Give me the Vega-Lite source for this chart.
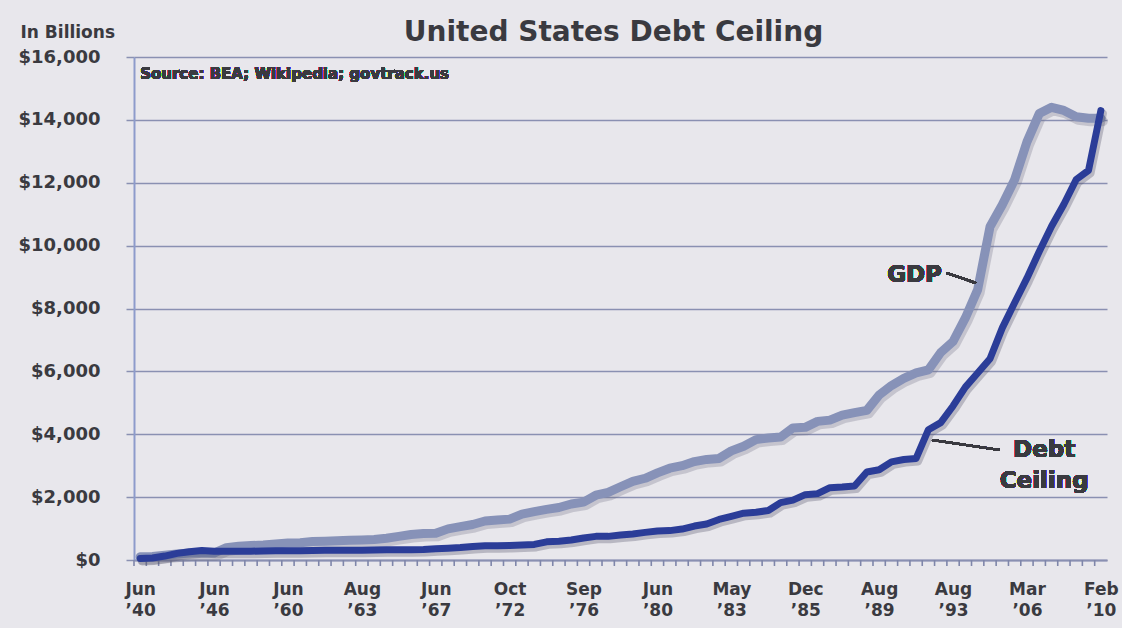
{
  "$schema": "https://vega.github.io/schema/vega-lite/v6.json",
  "width": 973,
  "height": 503,
  "autosize": "none",
  "padding": {"left": 134, "top": 57, "right": 15, "bottom": 68},
  "background": "#e8e7ec",
  "title": {
    "text": "United States Debt Ceiling",
    "font": "DejaVu Sans",
    "fontSize": 28,
    "fontWeight": "bold",
    "color": "#3a3a40",
    "anchor": "middle",
    "baseline": "alphabetic",
    "offset": -46,
    "dx": -7
  },
  "config": {
    "view": {"stroke": null},
    "font": "DejaVu Sans",
    "text": {"font": "DejaVu Sans"}
  },
  "datasets": {
    "events": [
      {"i": 0, "date": "Jun 1940", "debt": 49, "gdp": 100},
      {"i": 1, "date": "Feb 1941", "debt": 65, "gdp": 115},
      {"i": 2, "date": "Mar 1942", "debt": 125, "gdp": 150},
      {"i": 3, "date": "Apr 1943", "debt": 210, "gdp": 190},
      {"i": 4, "date": "Jun 1944", "debt": 260, "gdp": 220},
      {"i": 5, "date": "Apr 1945", "debt": 300, "gdp": 225},
      {"i": 6, "date": "Jun 1946", "debt": 275, "gdp": 222},
      {"i": 7, "date": "Aug 1954", "debt": 281, "gdp": 390},
      {"i": 8, "date": "Jul 1956", "debt": 278, "gdp": 440},
      {"i": 9, "date": "Feb 1958", "debt": 280, "gdp": 460},
      {"i": 10, "date": "Sep 1958", "debt": 288, "gdp": 480},
      {"i": 11, "date": "Jun 1959", "debt": 295, "gdp": 510},
      {"i": 12, "date": "Jun 1960", "debt": 293, "gdp": 540},
      {"i": 13, "date": "Jun 1961", "debt": 298, "gdp": 550},
      {"i": 14, "date": "Mar 1962", "debt": 300, "gdp": 590},
      {"i": 15, "date": "Jul 1962", "debt": 308, "gdp": 600},
      {"i": 16, "date": "May 1963", "debt": 307, "gdp": 615},
      {"i": 17, "date": "Jun 1963", "debt": 309, "gdp": 625},
      {"i": 18, "date": "Aug 1963", "debt": 309, "gdp": 635},
      {"i": 19, "date": "Nov 1963", "debt": 315, "gdp": 650},
      {"i": 20, "date": "Jun 1964", "debt": 324, "gdp": 690},
      {"i": 21, "date": "Jun 1965", "debt": 328, "gdp": 750},
      {"i": 22, "date": "Jun 1966", "debt": 330, "gdp": 810},
      {"i": 23, "date": "Mar 1967", "debt": 336, "gdp": 840},
      {"i": 24, "date": "Jun 1967", "debt": 358, "gdp": 850},
      {"i": 25, "date": "Apr 1969", "debt": 377, "gdp": 990},
      {"i": 26, "date": "Jun 1970", "debt": 395, "gdp": 1060},
      {"i": 27, "date": "Mar 1971", "debt": 430, "gdp": 1130},
      {"i": 28, "date": "Mar 1972", "debt": 450, "gdp": 1240},
      {"i": 29, "date": "Jul 1972", "debt": 450, "gdp": 1270},
      {"i": 30, "date": "Oct 1972", "debt": 465, "gdp": 1300},
      {"i": 31, "date": "Dec 1973", "debt": 476, "gdp": 1460},
      {"i": 32, "date": "Jun 1974", "debt": 495, "gdp": 1540},
      {"i": 33, "date": "Feb 1975", "debt": 577, "gdp": 1610},
      {"i": 34, "date": "Jun 1975", "debt": 595, "gdp": 1670},
      {"i": 35, "date": "Mar 1976", "debt": 636, "gdp": 1780},
      {"i": 36, "date": "Sep 1976", "debt": 700, "gdp": 1840},
      {"i": 37, "date": "Oct 1977", "debt": 752, "gdp": 2060},
      {"i": 38, "date": "Mar 1978", "debt": 752, "gdp": 2150},
      {"i": 39, "date": "Aug 1978", "debt": 798, "gdp": 2330},
      {"i": 40, "date": "Apr 1979", "debt": 830, "gdp": 2500},
      {"i": 41, "date": "Sep 1979", "debt": 879, "gdp": 2600},
      {"i": 42, "date": "Jun 1980", "debt": 925, "gdp": 2770},
      {"i": 43, "date": "Dec 1980", "debt": 935, "gdp": 2920},
      {"i": 44, "date": "Feb 1981", "debt": 985, "gdp": 3000},
      {"i": 45, "date": "Sep 1981", "debt": 1080, "gdp": 3130},
      {"i": 46, "date": "Jun 1982", "debt": 1143, "gdp": 3200},
      {"i": 47, "date": "Sep 1982", "debt": 1290, "gdp": 3230},
      {"i": 48, "date": "May 1983", "debt": 1389, "gdp": 3470},
      {"i": 49, "date": "Nov 1983", "debt": 1490, "gdp": 3620},
      {"i": 50, "date": "May 1984", "debt": 1520, "gdp": 3830},
      {"i": 51, "date": "Jul 1984", "debt": 1573, "gdp": 3880},
      {"i": 52, "date": "Oct 1984", "debt": 1824, "gdp": 3910},
      {"i": 53, "date": "Nov 1985", "debt": 1904, "gdp": 4200},
      {"i": 54, "date": "Dec 1985", "debt": 2079, "gdp": 4220},
      {"i": 55, "date": "Aug 1986", "debt": 2111, "gdp": 4410},
      {"i": 56, "date": "Oct 1986", "debt": 2300, "gdp": 4450},
      {"i": 57, "date": "May 1987", "debt": 2320, "gdp": 4610},
      {"i": 58, "date": "Aug 1987", "debt": 2352, "gdp": 4690},
      {"i": 59, "date": "Sep 1987", "debt": 2800, "gdp": 4760},
      {"i": 60, "date": "Aug 1989", "debt": 2870, "gdp": 5250},
      {"i": 61, "date": "Nov 1989", "debt": 3123, "gdp": 5550},
      {"i": 62, "date": "Aug 1990", "debt": 3195, "gdp": 5780},
      {"i": 63, "date": "Oct 1990", "debt": 3230, "gdp": 5950},
      {"i": 64, "date": "Nov 1990", "debt": 4145, "gdp": 6050},
      {"i": 65, "date": "Apr 1993", "debt": 4370, "gdp": 6600},
      {"i": 66, "date": "Aug 1993", "debt": 4900, "gdp": 6950},
      {"i": 67, "date": "Mar 1996", "debt": 5500, "gdp": 7700},
      {"i": 68, "date": "Aug 1997", "debt": 5950, "gdp": 8600},
      {"i": 69, "date": "Jun 2002", "debt": 6400, "gdp": 10600},
      {"i": 70, "date": "May 2003", "debt": 7384, "gdp": 11300},
      {"i": 71, "date": "Nov 2004", "debt": 8184, "gdp": 12100},
      {"i": 72, "date": "Mar 2006", "debt": 8965, "gdp": 13300},
      {"i": 73, "date": "Sep 2007", "debt": 9815, "gdp": 14200},
      {"i": 74, "date": "Jul 2008", "debt": 10615, "gdp": 14400},
      {"i": 75, "date": "Oct 2008", "debt": 11315, "gdp": 14300},
      {"i": 76, "date": "Feb 2009", "debt": 12104, "gdp": 14100},
      {"i": 77, "date": "Dec 2009", "debt": 12394, "gdp": 14050},
      {"i": 78, "date": "Feb 2010", "debt": 14294, "gdp": 14050}
    ]
  },
  "data": {"name": "events"},
  "layer": [
    {
      "mark": {"type": "rule", "color": "#7f86aa", "strokeWidth": 1.6, "xOffset": -6.16, "clip": false},
      "encoding": {
        "x": {
          "field": "i",
          "type": "quantitative",
          "scale": {"domain": [-0.5, 78.5], "nice": false, "zero": false},
          "axis": {
            "title": null,
            "values": [0, 6, 12, 18, 24, 30, 36, 42, 48, 54, 60, 66, 72, 78],
            "labelExpr": "[['Jun','Jun','Jun','Aug','Jun','Oct','Sep','Jun','May','Dec','Aug','Aug','Mar','Feb'][datum.value / 6], ['’40','’46','’60','’63','’67','’72','’76','’80','’83','’85','’89','’93','’06','’10'][datum.value / 6]]",
            "ticks": false,
            "domain": true,
            "domainColor": "#8a90b2",
            "domainWidth": 2,
            "labelFont": "DejaVu Sans",
            "labelFontSize": 17,
            "labelFontWeight": "bold",
            "labelColor": "#3a3a40",
            "labelPadding": 21,
            "labelLineHeight": 21,
            "labelBaseline": "top",
            "labelOverlap": false,
            "labelFlush": false,
            "grid": false
          }
        },
        "y": {
          "datum": 0,
          "type": "quantitative",
          "scale": {"domain": [0, 16000], "nice": false},
          "axis": {
            "title": "In Billions",
            "titleAngle": 0,
            "titleAlign": "left",
            "titleBaseline": "alphabetic",
            "titleX": -114,
            "titleY": -20,
            "titleFont": "DejaVu Sans",
            "titleFontSize": 17,
            "titleFontWeight": "bold",
            "titleColor": "#3a3a40",
            "values": [0, 2000, 4000, 6000, 8000, 10000, 12000, 14000, 16000],
            "format": "$,d",
            "labelFont": "DejaVu Sans",
            "labelFontSize": 18,
            "labelFontWeight": "bold",
            "labelColor": "#3a3a40",
            "labelPadding": 26,
            "tickSize": 8,
            "tickWidth": 1.5,
            "tickColor": "#8a90b2",
            "domainColor": "#8d9bcb",
            "domainWidth": 2,
            "grid": true,
            "gridColor": "#8a90b2",
            "gridWidth": 1.6
          }
        },
        "y2": {"datum": -190}
      }
    },
    {
      "mark": {"type": "line", "color": "#6c6c80", "opacity": 0.28, "strokeWidth": 10, "strokeJoin": "round", "strokeCap": "round", "xOffset": 2, "yOffset": 3},
      "encoding": {
        "x": {"field": "i", "type": "quantitative"},
        "y": {"field": "gdp", "type": "quantitative"}
      }
    },
    {
      "mark": {"type": "line", "color": "#8792b8", "strokeWidth": 9, "strokeJoin": "round", "strokeCap": "round"},
      "encoding": {
        "x": {"field": "i", "type": "quantitative"},
        "y": {"field": "gdp", "type": "quantitative"}
      }
    },
    {
      "mark": {"type": "line", "color": "#4a4a60", "opacity": 0.3, "strokeWidth": 8, "strokeJoin": "round", "strokeCap": "round", "xOffset": 2, "yOffset": 3},
      "encoding": {
        "x": {"field": "i", "type": "quantitative"},
        "y": {"field": "debt", "type": "quantitative"}
      }
    },
    {
      "mark": {"type": "line", "color": "#2b3d98", "strokeWidth": 7, "strokeJoin": "round", "strokeCap": "round"},
      "encoding": {
        "x": {"field": "i", "type": "quantitative"},
        "y": {"field": "debt", "type": "quantitative"}
      }
    },
    {
      "mark": {"type": "text", "text": "Source: BEA; Wikipedia; govtrack.us", "font": "DejaVu Sans", "fontSize": 15, "fontWeight": "bold", "color": "#3a3a40", "align": "left", "baseline": "alphabetic"},
      "encoding": {
        "x": {"datum": 0},
        "y": {"datum": 15300}
      }
    },
    {
      "mark": {"type": "text", "text": "GDP", "font": "DejaVu Sans", "fontSize": 23, "fontWeight": "bold", "color": "#3a3a40", "align": "right", "baseline": "middle"},
      "encoding": {
        "x": {"datum": 65.1},
        "y": {"datum": 9050}
      }
    },
    {
      "mark": {"type": "rule", "color": "#3a3a40", "strokeWidth": 2},
      "encoding": {
        "x": {"datum": 65.5},
        "x2": {"datum": 67.85},
        "y": {"datum": 9128},
        "y2": {"datum": 8810}
      }
    },
    {
      "mark": {"type": "text", "text": ["Debt", "Ceiling"], "font": "DejaVu Sans", "fontSize": 23, "fontWeight": "bold", "color": "#3a3a40", "align": "center", "baseline": "alphabetic", "lineHeight": 31},
      "encoding": {
        "x": {"datum": 73.4},
        "y": {"datum": 3276}
      }
    },
    {
      "mark": {"type": "rule", "color": "#3a3a40", "strokeWidth": 2},
      "encoding": {
        "x": {"datum": 64.3},
        "x2": {"datum": 69.8},
        "y": {"datum": 3817},
        "y2": {"datum": 3499}
      }
    }
  ]
}
